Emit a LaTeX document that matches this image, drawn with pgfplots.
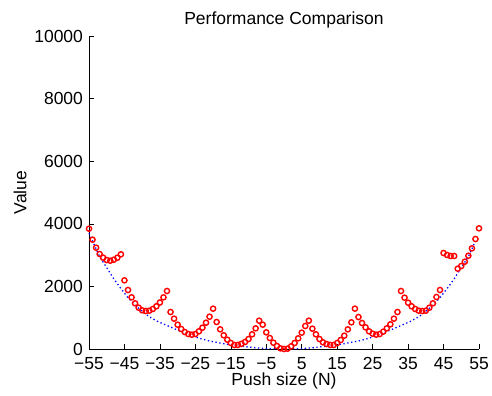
\documentclass[border=0pt]{standalone}
\usepackage{fontspec}
\setmainfont{Liberation Sans}
\usepackage{pgfplots}
\pgfplotsset{compat=1.18}
\usepackage{pgfplotstable}

% measured response, one point per newton of push
\pgfplotstableread{
x y
-55 3843
-54 3492
-53 3237
-52 3035
-51 2917
-50 2843
-49 2821
-48 2853
-47 2917
-46 3025
-45 2194
-44 1885
-43 1651
-42 1460
-41 1320
-40 1236
-39 1214
-38 1224
-37 1278
-36 1364
-35 1486
-34 1650
-33 1853
-32 1182
-31 969
-30 777
-29 639
-28 543
-27 479
-26 457
-25 479
-24 565
-23 681
-22 840
-21 1032
-20 1288
-19 863
-18 629
-17 438
-16 297
-15 192
-14 128
-13 130
-12 165
-11 224
-10 319
-9 469
-8 660
-7 905
-6 777
-5 532
-4 351
-3 202
-2 96
-1 21
0 0
1 10
2 85
3 192
4 341
5 522
6 735
7 905
8 650
9 469
10 319
11 213
12 160
13 130
14 128
15 192
16 288
17 426
18 628
19 852
20 1289
21 1022
22 831
23 692
24 564
25 490
26 458
27 479
28 554
29 660
30 788
31 969
32 1182
33 1853
34 1640
35 1480
36 1364
37 1278
38 1224
39 1214
40 1224
41 1320
42 1460
43 1661
44 1885
45 3067
46 3003
47 2971
48 2971
49 2566
50 2652
51 2790
52 2981
53 3216
54 3514
55 3855
}\measured

% reference curve
\pgfplotstableread{
x y
-55 3700
-54 3450
-52 2950
-50 2600
-48 2240
-46 1930
-44 1640
-42 1400
-40 1200
-38 1030
-36 900
-33 750
-30 605
-27 465
-24 345
-21 256
-18 192
-15 130
-12 90
-9 50
-6 22
-3 6
0 0
3 6
6 22
9 50
12 90
15 130
18 192
21 256
24 345
27 465
30 605
33 750
36 900
38 1030
40 1200
42 1400
44 1640
46 1930
48 2240
50 2600
52 2950
54 3450
}\reference

\begin{document}
\fontsize{17.5}{21}\selectfont
\begin{tikzpicture}
\begin{axis}[
  name=ax,
  at={(0,0)}, anchor=south west,
  scale only axis,
  width=390pt, height=313pt,
  xmin=-55, xmax=55, ymin=0, ymax=10000,
  axis lines=left,
  axis line style={-, line width=0.6pt},
  tick align=inside,
  tick style={line width=0.6pt, black},
  major tick length=5pt,
  scaled y ticks=false,
  xtick={-55,-45,...,55},
  xticklabels={−55,−45,−35,−25,−15,−5,5,15,25,35,45,55},
  ytick={0,2000,...,10000},
  yticklabels={0,2000,4000,6000,8000,10000},
  ticklabel style={font=\fontsize{17.5}{21}\selectfont},
  xticklabel style={yshift=-2pt},
  title={Performance Comparison},
  title style={font=\fontsize{17.5}{21}\selectfont, yshift=-4pt},
  xlabel={Push size (N)},
  ylabel={Value},
  label style={font=\fontsize{17.5}{21}\selectfont},
  xlabel style={yshift=8pt},
  ylabel style={yshift=-4pt},
  clip=false,
]
\addplot[blue, line width=1.3pt, dash pattern=on 1.3pt off 2.6pt] table[x=x, y=y] {\reference};
\addplot[only marks, red, mark=o, mark size=2.6pt, line width=1.4pt] table[x=x, y=y] {\measured};
\end{axis}
\pgfresetboundingbox
\path[use as bounding box] ([xshift=-89pt,yshift=-46pt]ax.south west) rectangle ([xshift=13pt,yshift=36pt]ax.north east);
\end{tikzpicture}
\end{document}
